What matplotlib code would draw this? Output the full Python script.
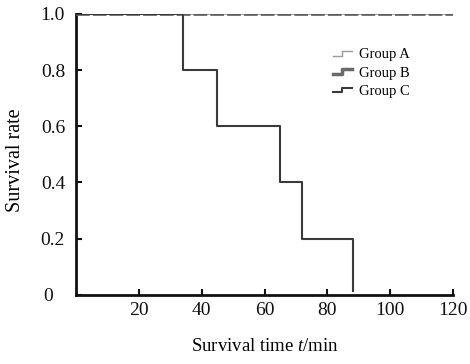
import matplotlib
matplotlib.use("Agg")
import matplotlib.pyplot as plt
from matplotlib.legend_handler import HandlerBase
from matplotlib.lines import Line2D
from matplotlib.transforms import ScaledTranslation

plt.rcParams['font.family'] = ['Liberation Serif', 'DejaVu Serif']
plt.rcParams['mathtext.fontset'] = 'custom'
plt.rcParams['mathtext.rm'] = 'Liberation Serif'
plt.rcParams['mathtext.it'] = 'Liberation Serif:italic'

# Data (Kaplan-Meier style step curves)
time_a = [0, 120]
surv_a = [1.0, 1.0]
time_b = [0, 120]
surv_b = [1.0, 1.0]
time_c = [0, 34, 45, 65, 72, 88]
surv_c = [1.0, 0.8, 0.6, 0.4, 0.2, 0.0]

x_ticks = [20, 40, 60, 80, 100, 120]
y_ticks = [0, 0.2, 0.4, 0.6, 0.8, 1.0]
y_ticklabels = ['0', '0.2', '0.4', '0.6', '0.8', '1.0']
labels = ['Group A', 'Group B', 'Group C']

fig = plt.figure(figsize=(4.7, 3.64), dpi=100)
ax = fig.add_axes([0.162, 0.19, 0.802, 0.772])

la, = ax.step(time_a, surv_a, where='post', color='#a0a0a0', lw=1.2, zorder=2)
lb, = ax.step(time_b, surv_b, where='post', color='#5a5a5a', lw=2.6,
              dashes=(3.8, 0.85), zorder=3)
# group C: step ending with a drop to 0 at the last time
xs, ys = [], []
for i in range(len(time_c) - 1):
    xs += [time_c[i], time_c[i + 1]]
    ys += [surv_c[i], surv_c[i]]
xs.append(time_c[-1]); ys.append(surv_c[-1] + 0.015)
lc, = ax.plot(xs, ys, color='#3a3a3a', lw=1.5, zorder=4)

ax.set_xlim(0, 120)
ax.set_ylim(0, 1.0)
ax.set_xticks(x_ticks)
ax.set_yticks(y_ticks)
ax.set_yticklabels(y_ticklabels)
for s in ['top', 'right']:
    ax.spines[s].set_visible(False)
for s in ['left', 'bottom']:
    ax.spines[s].set_linewidth(2.0)
    ax.spines[s].set_color('#111111')
ax.tick_params(direction='in', length=4, width=1.5, labelsize=14, pad=8,
               colors='#111111')
ax.tick_params(axis='x', pad=5)

# the origin label sits a little further left in the reference
zero_lab = ax.yaxis.get_major_ticks()[0].label1
zero_lab.set_transform(zero_lab.get_transform() +
                       ScaledTranslation(-0.12, 0, fig.dpi_scale_trans))

ax.set_ylabel('Survival rate', fontsize=14.5)
ax.yaxis.set_label_coords(-0.135, 0.48)
ax.set_xlabel('Survival time $\\it{t}$/min', fontsize=13.5, labelpad=14)


class StepHandler(HandlerBase):
    def create_artists(self, legend, orig_handle, xdescent, ydescent,
                       width, height, fontsize, trans):
        w, h = width, height
        xs = [0, 0.45 * w, 0.45 * w, w]
        ys = [0.25 * h, 0.25 * h, 0.7 * h, 0.7 * h]
        l = Line2D(xs, ys, color=orig_handle.get_color(),
                   lw=orig_handle.get_linewidth(), transform=trans)
        return [l]


la_h = Line2D([], [], color='#9a9a9a', lw=1.0)
lb_h = Line2D([], [], color='#6a6a6a', lw=2.5)
lc_h = Line2D([], [], color='#3a3a3a', lw=1.5)
ax.legend([la_h, lb_h, lc_h], labels, loc='upper right',
          bbox_to_anchor=(0.92, 0.925), frameon=False, fontsize=10.5,
          handler_map={Line2D: StepHandler()}, handlelength=1.35,
          handletextpad=0.45, labelspacing=0.35)

fig.savefig('out.png', dpi=100)
